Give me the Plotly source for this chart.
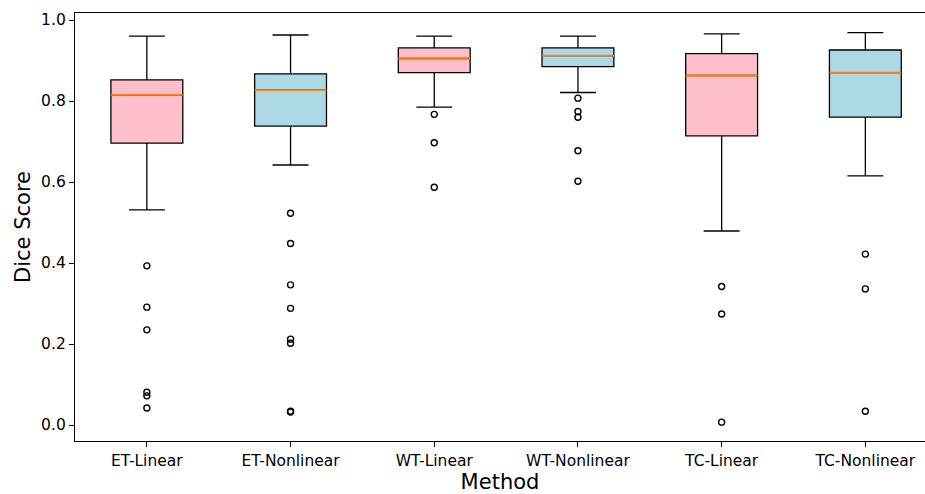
import plotly.graph_objects as go

methods = ["ET-Linear", "ET-Nonlinear", "WT-Linear", "WT-Nonlinear", "TC-Linear", "TC-Nonlinear"]
positions = [1, 2, 3, 4, 5, 6]
fill_colors = ["pink", "lightblue", "pink", "lightblue", "pink", "lightblue"]

q1 = [0.696, 0.738, 0.870, 0.885, 0.714, 0.760]
median = [0.815, 0.827, 0.905, 0.912, 0.863, 0.870]
q3 = [0.852, 0.867, 0.931, 0.931, 0.917, 0.926]
lower_whisker = [0.531, 0.642, 0.785, 0.821, 0.479, 0.615]
upper_whisker = [0.960, 0.963, 0.960, 0.960, 0.966, 0.969]

outliers = [
    [0.393, 0.291, 0.235, 0.081, 0.072, 0.042],
    [0.523, 0.448, 0.346, 0.288, 0.212, 0.202, 0.034, 0.032],
    [0.767, 0.697, 0.587],
    [0.807, 0.774, 0.760, 0.677, 0.602],
    [0.342, 0.274, 0.007],
    [0.422, 0.336, 0.034],
]

yticks = [0.0, 0.2, 0.4, 0.6, 0.8, 1.0]
box_width = 0.5

fig = go.Figure()
for i, m in enumerate(methods):
    fig.add_trace(go.Box(
        x=[positions[i]], q1=[q1[i]], median=[median[i]], q3=[q3[i]],
        lowerfence=[lower_whisker[i]], upperfence=[upper_whisker[i]],
        width=box_width, whiskerwidth=0.5, fillcolor=fill_colors[i],
        line=dict(color="black", width=1.3), boxpoints=False, name=m,
        showlegend=False, hoverinfo="skip",
    ))
    fig.add_trace(go.Scatter(
        x=[positions[i] - box_width / 2, positions[i] + box_width / 2],
        y=[median[i], median[i]], mode="lines",
        line=dict(color="#ff7f0e", width=1.8), showlegend=False, hoverinfo="skip",
    ))
    fig.add_trace(go.Scatter(
        x=[positions[i]] * len(outliers[i]), y=outliers[i], mode="markers",
        marker=dict(symbol="circle-open", size=6, color="black", line=dict(width=1.4)),
        showlegend=False, hoverinfo="skip",
    ))

fig.update_layout(
    width=925, height=494,
    margin=dict(l=75, r=0, t=13, b=53),
    plot_bgcolor="white", paper_bgcolor="white",
    font=dict(family="DejaVu Sans", size=15.5, color="black"),
    boxmode="overlay",
)
fig.update_xaxes(
    range=[0.5, 0.5 + 850 / 143.7],
    tickvals=positions, ticktext=methods,
    showline=True, linecolor="black", linewidth=1.3, mirror=True,
    ticks="outside", ticklen=5, tickcolor="black", tickwidth=1.1,
    showgrid=False, zeroline=False,
    tickfont=dict(size=15.5),
    title=dict(text="Method", font=dict(size=21), standoff=6),
)
fig.update_yaxes(
    range=[-0.0395, 1.0173],
    tickvals=yticks, ticktext=[f"{v:.1f}" for v in yticks],
    showline=True, linecolor="black", linewidth=1.3,
    ticks="outside", ticklen=5, tickcolor="black", tickwidth=1.1,
    showgrid=False, zeroline=False,
    tickfont=dict(size=15.5),
    title=dict(text="Dice Score", font=dict(size=21), standoff=4),
)

fig.write_html(
    "out.html",
    config={"displayModeBar": False},
    post_script="document.body.style.margin='0';document.body.style.overflow='hidden';",
)
